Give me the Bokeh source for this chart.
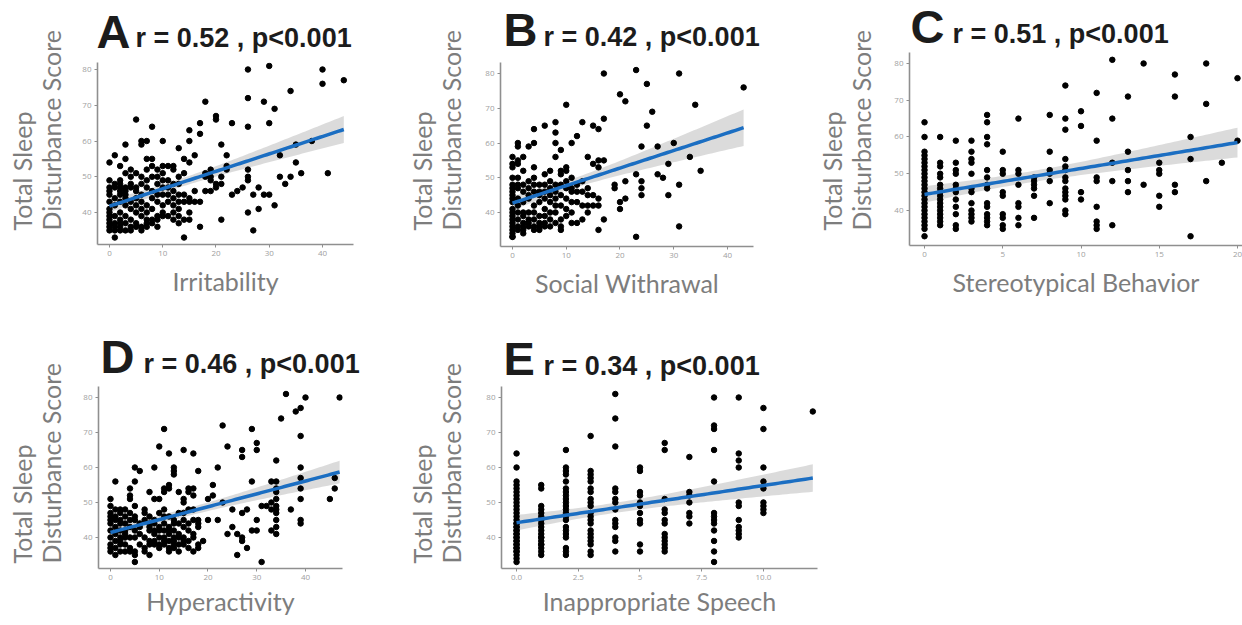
import numpy as np
from bokeh.plotting import figure
from bokeh.layouts import row, column
from bokeh.models import FixedTicker, Range1d
from bokeh.core.properties import value
from bokeh.embed import file_html
from bokeh.resources import INLINE

# ---------------- data (x value -> list of Total Sleep Disturbance Scores) ----------------
irritability = {
    0: [54, 49, 47, 46, 45, 43, 41, 40, 39, 38, 37, 36, 35],
    1: [56, 48, 47, 44, 42, 39, 37, 36, 35, 33],
    2: [53, 49, 48, 47, 46, 45, 43, 40, 38, 37, 36, 35],
    3: [59, 55, 51, 47, 46, 45, 44, 42, 39, 37, 35],
    4: [52, 50, 48, 47, 43, 41, 38, 36, 35],
    5: [66, 51, 47, 46, 44, 42, 40, 37, 36],
    6: [60, 59, 50, 48, 45, 43, 41, 39, 36, 35],
    7: [60, 55, 52, 49, 47, 42, 40, 38, 37, 36],
    8: [64, 55, 53, 50, 46, 44, 41, 38, 37],
    9: [52, 50, 48, 45, 43, 39, 38, 36],
    10: [60, 53, 51, 49, 47, 45, 42, 40, 39],
    11: [53, 49, 47, 45, 43, 39],
    12: [53, 52, 48, 46, 44, 42, 40, 38],
    13: [58, 50, 48, 45, 43, 41, 39, 37],
    14: [55, 51, 45, 43, 38, 33],
    15: [63, 60, 54, 44, 43, 40, 38],
    16: [56, 46, 43],
    17: [65, 62, 43, 36],
    18: [71, 51, 50, 46],
    19: [52, 50, 49, 46],
    20: [67, 66, 48, 47],
    21: [59, 50, 48, 38],
    22: [56, 53, 52],
    23: [65, 45],
    24: [46],
    25: [47],
    26: [80, 72, 64, 52, 50, 49, 40],
    27: [45, 35],
    28: [47, 41],
    29: [71, 45],
    30: [81, 65, 45],
    31: [69, 42],
    32: [56, 50],
    33: [48],
    34: [74, 50],
    35: [59, 54],
    36: [51],
    38: [60],
    40: [80, 76],
    41: [51],
    44: [77],
}

social_withdrawal = {
    0: [56, 54, 53, 50, 48, 47, 46, 45, 44, 43, 41, 40, 39, 38, 37, 36, 35, 34, 33, 33],
    1: [60, 59, 55, 54, 50, 48, 47, 44, 42, 40, 38, 36, 35],
    2: [56, 52, 48, 46, 43, 40, 39, 37, 36, 35, 34],
    3: [59, 49, 47, 45, 44, 40, 38, 37, 36],
    4: [64, 60, 53, 50, 48, 46, 42, 40, 38, 36, 35],
    5: [48, 46, 45, 43, 39, 37, 36, 35],
    6: [65, 51, 48, 46, 44, 41, 39, 37, 36],
    7: [52, 49, 47, 45, 43, 40, 38, 36],
    8: [66, 63, 60, 56, 48, 46, 44, 42, 40, 37],
    9: [58, 52, 51, 48, 45, 42, 38, 36, 35],
    10: [71, 53, 52, 49, 47, 44, 41, 39],
    11: [60, 50, 47, 46, 43, 40, 37],
    12: [62, 48, 46, 43, 37],
    13: [66, 49, 46, 42, 38],
    14: [56, 47, 45, 42, 40],
    15: [65, 54, 45, 42],
    16: [64, 55, 53, 44, 42, 35],
    17: [80, 67, 55, 38],
    19: [48, 47],
    20: [74, 43, 41],
    21: [72, 49, 44],
    23: [81, 51, 33],
    24: [59, 49, 47, 45],
    25: [77, 65],
    26: [69],
    27: [59, 51],
    28: [50],
    29: [54, 45],
    30: [60],
    31: [80, 48, 36],
    33: [56],
    34: [71],
    35: [52],
    43: [76],
}

stereotypical = {
    0: [64, 60, 56, 55, 54, 53, 52, 51, 50, 49, 48, 47, 46, 45, 44, 43, 42, 41, 40, 39, 38, 37, 36, 35, 33],
    1: [60, 53, 52, 50, 49, 47, 46, 45, 44, 43, 42, 41, 40, 39, 38, 37, 36],
    2: [59, 53, 51, 50, 47, 46, 45, 43, 41, 39, 36, 35],
    3: [59, 56, 54, 53, 50, 46, 45, 42, 40, 39, 38, 37],
    4: [66, 64, 60, 58, 51, 49, 47, 46, 42, 41, 39, 38, 37, 36],
    5: [56, 51, 50, 45, 44, 39, 38, 36, 35],
    6: [65, 51, 50, 47, 42, 41, 38, 36],
    7: [49, 48, 47, 46, 44, 38],
    8: [66, 56, 51, 50, 48, 42],
    9: [74, 65, 62, 54, 52, 51, 49, 48, 46, 45, 44, 43, 40, 39],
    10: [67, 63, 45, 43],
    11: [72, 59, 49, 48, 41, 37, 36, 35],
    12: [81, 65, 53, 48, 36],
    13: [71, 56, 51, 48, 45],
    14: [80, 47],
    15: [53, 51, 50, 44, 41],
    16: [77, 71, 47, 45],
    17: [60, 54, 33],
    18: [80, 69, 48],
    19: [53],
    20: [76, 59],
}

hyperactivity = {
    0: [51, 49, 47, 46, 45, 44, 42, 40, 38, 37, 36],
    1: [56, 48, 46, 45, 43, 41, 39, 37, 35],
    2: [48, 47, 45, 44, 42, 40, 39, 38, 36],
    3: [48, 46, 44, 42, 41, 40, 38, 36],
    4: [54, 52, 51, 47, 45, 43, 40, 37, 36],
    5: [60, 56, 49, 46, 45, 42, 40, 36, 35, 33],
    6: [59, 44, 43, 41, 38],
    7: [48, 47, 45, 40, 37, 36],
    8: [53, 46, 44, 43, 42, 39, 38, 35],
    9: [60, 51, 45, 44, 42, 41, 39, 38],
    10: [66, 51, 47, 43, 42, 40, 38, 37],
    11: [71, 54, 53, 48, 46, 44, 42, 40, 39, 38],
    12: [64, 55, 54, 46, 43, 42, 41, 39, 37, 36],
    13: [60, 59, 58, 45, 44, 42, 40, 39, 38, 37],
    14: [53, 47, 44, 41, 40, 38, 36],
    15: [65, 51, 50, 47, 45, 43, 40, 39, 38],
    16: [54, 53, 48, 44, 42, 39, 37],
    17: [64, 54, 52, 48, 45, 41, 40, 36],
    18: [59, 45, 44, 43, 38, 37],
    19: [39],
    20: [51, 45],
    21: [55, 52],
    22: [60, 45],
    23: [72, 50],
    24: [66, 41],
    25: [48, 43],
    26: [41, 35],
    27: [65, 63, 47, 40, 39],
    28: [48, 37],
    29: [71, 56, 42],
    30: [67, 65, 45, 42],
    31: [49, 33],
    32: [49],
    33: [56, 50, 48, 42],
    34: [62, 56, 54, 53, 51, 49, 48, 47, 45, 43, 41],
    35: [74],
    36: [81],
    37: [48],
    38: [76],
    39: [77, 69, 60, 57, 54, 51, 45, 44],
    40: [80],
    45: [51],
    46: [57, 54],
    47: [80],
}

# integer-valued scale: many points coincide, so some values repeat
inappropriate_speech = {
    0: [64, 60, 56, 55, 54, 53, 52, 51, 50, 49, 48, 47, 46, 45, 44, 43, 42, 41, 40, 39, 38, 37, 36, 35, 34, 33,
        44, 43, 42, 41, 40, 39, 38, 37, 36],
    1: [55, 54, 49, 48, 47, 46, 45, 44, 43, 41, 40, 39, 38, 37, 36, 35, 42, 40, 38],
    2: [65, 60, 59, 58, 56, 54, 53, 52, 51, 50, 49, 48, 47, 46, 45, 43, 42, 41, 40, 37, 36, 35],
    3: [69, 59, 58, 57, 56, 54, 53, 51, 50, 49, 47, 46, 45, 44, 42, 41, 40, 39, 38, 36, 35],
    4: [81, 74, 66, 54, 53, 51, 50, 48, 45, 44, 43, 40, 39, 36],
    5: [60, 59, 53, 52, 50, 49, 47, 45, 44, 38, 36],
    6: [67, 65, 51, 48, 47, 45, 44, 41, 40, 39, 38, 37, 36],
    7: [63, 53, 52, 50, 47, 46, 44],
    8: [80, 72, 71, 65, 56, 47, 46, 45, 44, 42, 39, 36, 33],
    9: [80, 64, 62, 60, 50, 49, 45, 43, 42, 41, 40],
    10: [77, 71, 60, 56, 54, 50, 49, 48, 47],
    12: [76],
}

panel_letters = ["A", "B", "C", "D", "E"]
panel_stats = ["r = 0.52 , p<0.001", "r = 0.42 , p<0.001", "r = 0.51 , p<0.001",
               "r = 0.46 , p<0.001", "r = 0.34 , p<0.001"]
x_titles = ["Irritability", "Social Withrawal", "Stereotypical Behavior",
            "Hyperactivity", "Inappropriate Speech"]
y_title_lines = ["Total Sleep", "Disturbance Score"]
y_ticks = [40, 50, 60, 70, 80]
x_ticks = [[0, 10, 20, 30, 40], [0, 10, 20, 30, 40], [0, 5, 10, 15, 20],
           [0, 10, 20, 30, 40], [0, 2.5, 5, 7.5, 10, 12.5]]
x_tick_labels = [None, None, None, None, ["0.0", "2.5", "5", "7.5", "10.0", "12.5"]]

# ---------------- helpers ----------------
def expand(d):
    xs, ys = [], []
    for k, vals in d.items():
        for v in vals:
            xs.append(k)
            ys.append(v)
    return np.array(xs, dtype=float), np.array(ys, dtype=float)


def fit_band(x, y, n=80):
    b, a = np.polyfit(x, y, 1)
    xs = np.linspace(x.min(), x.max(), n)
    yhat = a + b * xs
    resid = y - (a + b * x)
    s = np.sqrt((resid ** 2).sum() / (len(x) - 2))
    sxx = ((x - x.mean()) ** 2).sum()
    se = s * np.sqrt(1.0 / len(x) + (xs - x.mean()) ** 2 / sxx)
    t = 1.97
    return xs, yhat, yhat - t * se, yhat + t * se


AXIS_GRAY = "#8f8f8f"
LABEL_GRAY = "#7d7d7d"
TICK_GRAY = "#a0a0a0"
LINE_BLUE = "#1b6ec2"
TITLE_COLOR = "#1c1c1c"
LABEL_FONT = "Lato"


def blank_fig(w, h):
    # pixel-space canvas: x in [0, w], y in [0, h] (y measured upward from the bottom)
    f = figure(width=w, height=h, x_range=Range1d(0, w), y_range=Range1d(0, h),
               x_axis_type=None, y_axis_type=None,
               output_backend="svg", toolbar_location=None, min_border=0)
    f.outline_line_color = None
    f.grid.visible = False
    f.background_fill_color = None
    f.border_fill_color = None
    try:
        f.frame_align = False          # keep this canvas out of frame alignment
    except Exception:
        pass
    return f


def make_panel(data, idx, fig_box, frame_box, xr, yr, letter_px, stat_px, ylab_px, xlab_standoff):
    fx, fy, fw, fh = fig_box               # page px of whole panel
    fl, fr, ft, fb = frame_box             # page px of plotting frame
    gw = fl - 25 - fx                      # width of left gutter holding the y title
    hw = fw - gw                           # width of header / main plot
    hh = ft - fy                           # header height

    # ----- left gutter: y title (two lines, rotated, start-aligned at the bottom) -----
    g = blank_fig(gw, fh)
    gy = (fy + fh) - ylab_px[2]
    g.text(x=[ylab_px[0] - fx, ylab_px[1] - fx], y=[gy, gy], text=y_title_lines,
           angle=np.pi / 2, text_font=value(LABEL_FONT), text_font_size="25px",
           text_color=LABEL_GRAY, text_align="left", text_baseline="middle")

    # ----- header: panel letter + statistics -----
    h = blank_fig(hw, hh)
    hx0 = fx + gw
    h.text(x=[letter_px[0] - hx0], y=[ft - letter_px[1]], text=[panel_letters[idx]],
           text_font=value("Liberation Sans"), text_font_style="bold", text_font_size="47px",
           text_color=TITLE_COLOR, text_align="left", text_baseline="middle")
    h.text(x=[stat_px[0] - hx0], y=[ft - stat_px[1]], text=[panel_stats[idx]],
           text_font=value("Liberation Sans"), text_font_style="bold", text_font_size="27px",
           text_color=TITLE_COLOR, text_align="left", text_baseline="middle")

    # ----- main scatter plot -----
    p = figure(width=hw, height=fh - hh, x_range=xr, y_range=yr,
               output_backend="svg", toolbar_location=None,
               min_border_left=fl - (fx + gw), min_border_right=fx + fw - fr,
               min_border_top=0, min_border_bottom=fy + fh - fb)
    p.outline_line_color = None
    p.background_fill_color = "white"
    p.border_fill_color = "white"
    p.xgrid.visible = False
    p.ygrid.visible = False

    x, y = expand(data)
    xs, yhat, lo, hi = fit_band(x, y)
    p.varea(x=xs, y1=lo, y2=hi, fill_color="#bdbdbd", fill_alpha=0.55)
    p.scatter(x, y, size=5.5, color="black", line_color="black")
    p.line(xs, yhat, line_color=LINE_BLUE, line_width=3.5)

    for ax in (p.xaxis[0], p.yaxis[0]):
        ax.axis_line_color = AXIS_GRAY
        ax.axis_line_width = 1.6
        ax.major_tick_line_color = AXIS_GRAY
        ax.major_tick_in = 0
        ax.major_tick_out = 3
        ax.minor_tick_line_color = None
        ax.major_label_text_font_size = "8px"
        ax.major_label_text_color = TICK_GRAY
        ax.major_label_text_font = "Open Sans"
        ax.major_label_standoff = 3

    xa = p.xaxis[0]
    xa.ticker = FixedTicker(ticks=x_ticks[idx])
    if x_tick_labels[idx] is not None:
        xa.major_label_overrides = {t: l for t, l in zip(x_ticks[idx], x_tick_labels[idx])}
    xa.axis_label = x_titles[idx]
    xa.axis_label_text_font = LABEL_FONT
    xa.axis_label_text_font_style = "normal"
    xa.axis_label_text_font_size = "25px"
    xa.axis_label_text_color = LABEL_GRAY
    xa.axis_label_standoff = xlab_standoff
    p.yaxis[0].ticker = FixedTicker(ticks=y_ticks)

    return row(g, column(h, p, spacing=0), spacing=0)


# anchors below are the vertical middles of the texts (page px)
pA = make_panel(irritability, 0, (0, 0, 400, 310), (97, 353, 62, 244),
                (-2.25, 45.82), (31.05, 81.96), (96, 31), (135, 37), (21, 50, 230), 7)
pB = make_panel(social_withdrawal, 1, (400, 0, 410, 310), (500, 753, 62, 246),
                (-2.23, 44.84), (30.22, 83.17), (503, 29), (543, 36), (421, 450, 230), 7)
pC = make_panel(stereotypical, 2, (810, 0, 432, 310), (909, 1242, 52, 245),
                (-0.96, 20.32), (30.48, 82.99), (910, 26), (952, 33), (831, 860, 230), 7)
pD = make_panel(hyperactivity, 3, (0, 310, 400, 315), (98, 342, 386, 568),
                (-2.46, 47.59), (31.14, 83.14), (100, 356), (143, 363), (21, 50, 563), 3)
pE = make_panel(inappropriate_speech, 4, (400, 310, 430, 315), (501, 817, 386, 568),
                (-0.61, 12.19), (31.14, 83.14), (503, 358), (543, 365), (421, 450, 563), 3)

layout = column(row(pA, pB, pC, spacing=0), row(pD, pE, spacing=0), spacing=0)

with open("out.html", "w") as f:
    f.write(file_html(layout, INLINE))
